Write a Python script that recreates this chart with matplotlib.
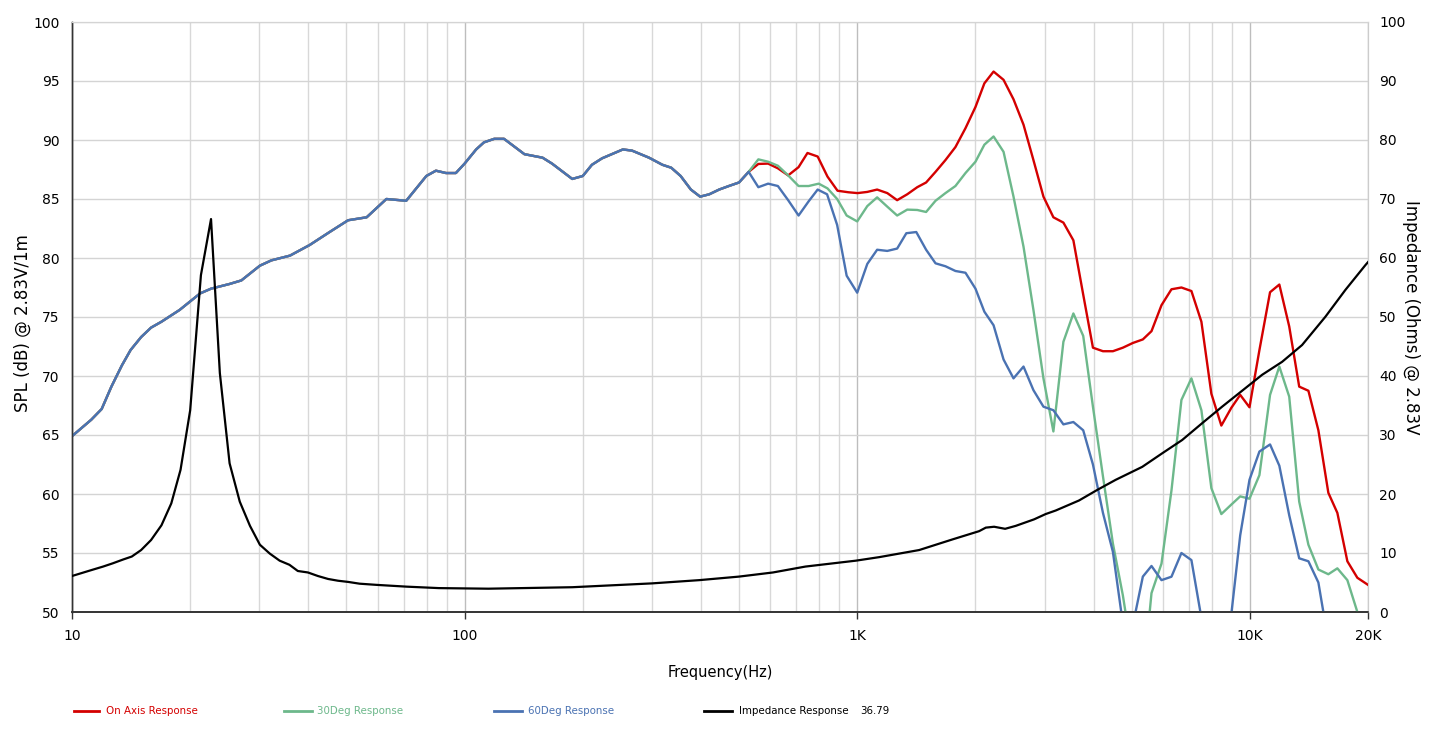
import matplotlib
matplotlib.use("Agg")
import matplotlib.pyplot as plt
from matplotlib.lines import Line2D
from matplotlib.ticker import FixedLocator, NullFormatter

# ---------------- data ----------------
# shared part of the three SPL curves (10 Hz .. 529 Hz)
shared_freq = [10, 11.2, 11.9, 12.6, 13.4, 14.1, 15.0, 15.9, 16.9, 18.8, 21.2, 22.6,
               25.2, 27.0, 30.1, 32.2, 35.9, 40.3, 45.3, 50.5, 56.3, 63.2, 71.0, 79.9,
               84.5, 89.7, 95, 100, 107, 112, 119, 126, 142, 158, 167, 188, 200, 211,
               224, 253, 267, 295, 319, 336, 355, 377, 398, 420, 445, 471, 500, 529]
shared_spl = [64.9, 66.3, 67.2, 69.1, 70.9, 72.2, 73.3, 74.1, 74.6, 75.6, 77.0, 77.4,
              77.8, 78.1, 79.35, 79.8, 80.2, 81.1, 82.2, 83.2, 83.45, 85.0, 84.85, 86.95,
              87.4, 87.2, 87.2, 88.0, 89.2, 89.8, 90.1, 90.1, 88.8, 88.5, 88.0, 86.7, 86.95, 87.9,
              88.45, 89.2, 89.1, 88.5, 87.9, 87.65, 86.95, 85.8, 85.2, 85.4, 85.8, 86.1, 86.4, 87.3]

on_axis_freq = [560, 593, 628, 667, 709, 747, 793, 840, 891, 950, 1002, 1061, 1124, 1193,
                1264, 1341, 1422, 1498, 1583, 1678, 1779, 1887, 2001, 2108, 2225, 2359, 2501,
                2652, 2811, 2981, 3160, 3351, 3553, 3764, 3985, 4226, 4480, 4750, 5037, 5340,
                5618, 5957, 6316, 6696, 7100, 7528, 7981, 8462, 8971, 9452, 9980, 10580, 11260,
                11890, 12600, 13360, 14100, 14950, 15850, 16710, 17720, 18790, 20000]
on_axis_spl = [87.97, 88.0, 87.6, 87.0, 87.7, 88.9, 88.6, 86.9, 85.7, 85.57, 85.5, 85.6, 85.8, 85.5,
               84.9, 85.4, 86.0, 86.4, 87.3, 88.3, 89.4, 91.0, 92.8, 94.8, 95.8, 95.1, 93.45,
               91.3, 88.3, 85.2, 83.45, 83.0, 81.5, 76.9, 72.4, 72.1, 72.1, 72.4, 72.8, 73.1,
               73.8, 76.0, 77.35, 77.5, 77.2, 74.6, 68.5, 65.8, 67.3, 68.4, 67.35, 72.2, 77.1,
               77.75, 74.2, 69.1, 68.75, 65.4, 60.1, 58.4, 54.3, 52.9, 52.3]

deg30_freq = [560, 593, 628, 667, 709, 752, 798, 840, 889, 940, 1000, 1061, 1124, 1193,
              1264, 1341, 1422, 1498, 1583, 1678, 1779, 1887, 2001, 2108, 2225, 2359, 2501,
              2652, 2811, 2981, 3160, 3351, 3553, 3764, 3985, 4226, 4480, 4750, 5037, 5340,
              5618, 5957, 6316, 6696, 7100, 7528, 7981, 8462, 8971, 9452, 9980, 10580, 11260,
              11890, 12600, 13360, 14100, 14950, 15850, 16710, 17720, 18790, 20000]
deg30_spl = [88.36, 88.16, 87.82, 87.0, 86.1, 86.1, 86.3, 85.9, 85.0, 83.6, 83.1, 84.4, 85.14, 84.35,
             83.6, 84.1, 84.07, 83.9, 84.85, 85.5, 86.1, 87.2, 88.16, 89.6, 90.3, 89.0, 85.2,
             80.96, 75.6, 69.8, 65.3, 72.9, 75.3, 73.4, 67.4, 61.5, 55.8, 51.4, 46.0, 44.0,
             51.6, 54.1, 60.3, 67.97, 69.8, 67.1, 60.5, 58.3, 59.1, 59.8, 59.6, 61.6, 68.4,
             70.8, 68.25, 59.35, 55.7, 53.6, 53.2, 53.7, 52.7, 50.0, 46.0]

deg60_freq = [560, 593, 628, 667, 709, 752, 793, 838, 889, 940, 1000, 1061, 1124, 1193,
              1264, 1334, 1414, 1498, 1583, 1678, 1779, 1887, 2001, 2108, 2225, 2359, 2501,
              2652, 2811, 2981, 3160, 3351, 3553, 3764, 3985, 4226, 4480, 4750, 5037, 5340,
              5618, 5957, 6316, 6696, 7100, 7528, 7981, 8462, 8971, 9452, 9980, 10580, 11260,
              11890, 12600, 13360, 14100, 14950, 15850, 16710, 17720, 18790, 20000]
deg60_spl = [86.0, 86.3, 86.1, 84.9, 83.6, 84.8, 85.8, 85.4, 82.8, 78.5, 77.06, 79.5, 80.7, 80.6,
             80.8, 82.1, 82.2, 80.7, 79.55, 79.3, 78.9, 78.75, 77.4, 75.45, 74.3, 71.4, 69.8,
             70.8, 68.8, 67.4, 67.1, 65.9, 66.1, 65.4, 62.5, 58.4, 55.1, 49.0, 48.9, 53.0,
             53.9, 52.7, 52.99, 55.0, 54.4, 49.5, 45.0, 45.0, 49.8, 56.5, 61.2, 63.6, 64.2,
             62.4, 58.2, 54.55, 54.3, 52.5, 47.5, 45.0, 45.0, 45.0, 45.0]

imp_freq = [10, 11.2, 12.0, 12.7, 13.5, 14.2, 15.0, 15.9, 16.9, 17.9, 18.9, 20.0, 21.3, 22.6,
            23.8, 25.2, 26.75, 28.4, 30.1, 31.9, 33.8, 35.8, 37.6, 39.9, 42.3, 44.9, 47.6, 50.5,
            54.0, 59.6, 71, 86, 115, 188, 300, 396, 500, 610, 738, 992, 1138, 1438, 1748, 2044,
            2126, 2232, 2381, 2534, 2821, 3020, 3203, 3672, 4089, 4553, 5321, 5983, 6725, 7561,
            8501, 9559, 10747, 12085, 13587, 15581, 17520, 19700, 20000]
imp_ohm = [6.1, 7.1, 7.7, 8.25, 8.9, 9.4, 10.5, 12.2, 14.7, 18.4, 24.1, 34.2, 57.1, 66.6,
           40.5, 25.2, 18.7, 14.6, 11.4, 9.9, 8.7, 8.0, 6.95, 6.7, 6.1, 5.6, 5.3, 5.1,
           4.8, 4.6, 4.3, 4.05, 3.95, 4.2, 4.85, 5.4, 6.0, 6.7, 7.7, 8.7, 9.3, 10.5, 12.3, 13.7,
           14.3, 14.45, 14.1, 14.6, 15.7, 16.6, 17.2, 18.9, 20.7, 22.4, 24.6, 26.9, 29.15, 32.0,
           34.8, 37.5, 40.2, 42.4, 45.25, 50.05, 54.6, 58.8, 59.3]

x_ticks = [10, 100, 1000, 10000, 20000]
x_tick_labels = ["10", "100", "1K", "10K", "20K"]
minor_grid = [20, 30, 40, 50, 60, 70, 80, 90, 200, 300, 400, 500, 600, 700, 800, 900,
              2000, 3000, 4000, 5000, 6000, 7000, 8000, 9000]
spl_ticks = list(range(50, 101, 5))
imp_ticks = list(range(0, 101, 10))

series_labels = ["On Axis Response", "30Deg Response", "60Deg Response", "Impedance Response"]
impedance_note = "36.79"

RED = "#D40000"
GREEN = "#6DB88B"
BLUE = "#4A72B2"
BLACK = "#000000"

# ---------------- figure ----------------
plt.rcParams['font.family'] = ['DejaVu Sans']
W, H = 1440, 740
fig = plt.figure(figsize=(W / 100, H / 100), dpi=100)
L, R, T, B = 72, 1368, 22, 612
ax = fig.add_axes([L / W, 1 - B / H, (R - L) / W, (B - T) / H])
ax2 = ax.twinx()

ax.set_xscale("log")
ax.set_xlim(10, 20000)
ax.set_ylim(50, 100)
ax2.set_ylim(0, 100)

ax.plot(shared_freq + on_axis_freq, shared_spl + on_axis_spl, color=RED, lw=1.7, zorder=3)
ax.plot(shared_freq + deg30_freq, shared_spl + deg30_spl, color=GREEN, lw=1.7, zorder=4)
ax.plot(shared_freq + deg60_freq, shared_spl + deg60_spl, color=BLUE, lw=1.7, zorder=5)
ax2.plot(imp_freq, imp_ohm, color=BLACK, lw=1.6, zorder=3)

# grid
ax.set_yticks(spl_ticks)
ax.yaxis.grid(True, color="#D4D4D4", lw=1.0)
ax.xaxis.set_major_locator(FixedLocator(x_ticks))
ax.set_xticklabels(x_tick_labels)
ax.xaxis.set_minor_locator(FixedLocator(minor_grid))
ax.xaxis.set_minor_formatter(NullFormatter())
ax.xaxis.grid(True, which="major", color="#BDBDBD", lw=1.0)
ax.xaxis.grid(True, which="minor", color="#D8D8D8", lw=1.0)
ax.set_axisbelow(True)

ax.tick_params(axis="x", which="major", length=5, width=1, color="#333333",
               labelsize=10, pad=7)
ax.tick_params(axis="x", which="minor", length=0)
ax.tick_params(axis="y", which="major", length=0, labelsize=10, pad=9)
ax.yaxis.set_minor_locator(FixedLocator([50, 100]))
ax.tick_params(axis="y", which="minor", length=4, width=1, color="#333333")

ax2.set_yticks(imp_ticks)
ax2.tick_params(axis="y", length=0, labelsize=10, pad=8)

for a in (ax, ax2):
    a.spines["top"].set_color("#D4D4D4")
    a.spines["right"].set_color("#CCCCCC")
    a.spines["left"].set_color("#333333")
    a.spines["bottom"].set_color("#333333")
    a.spines["left"].set_linewidth(1.0)
    a.spines["bottom"].set_linewidth(1.2)
ax.patch.set_visible(False)
ax2.patch.set_visible(False)

ax.set_xlabel("Frequency(Hz)", fontsize=10.5, labelpad=16)
ax.set_ylabel("SPL (dB) @ 2.83V/1m", fontsize=12, labelpad=6)
ax.yaxis.set_label_coords(-0.031, 0.49)
ax2.set_ylabel("Impedance (Ohms) @ 2.83V", fontsize=12, rotation=-90, labelpad=14)
ax2.yaxis.set_label_coords(1.04, 0.5)

# legend (manual, along the bottom)
ly = 1 - 711 / H
items = [(74, 99, 106, RED, series_labels[0]),
         (284, 312, 317, GREEN, series_labels[1]),
         (494, 522, 528, BLUE, series_labels[2]),
         (704, 732, 739, BLACK, series_labels[3])]
for x0, x1, tx, col, lab in items:
    fig.add_artist(Line2D([x0 / W, x1 / W], [ly, ly], transform=fig.transFigure,
                          color=col, lw=2))
    fig.text(tx / W, ly, lab, color=col, fontsize=7.4, va="center", ha="left")
fig.text(860 / W, ly, impedance_note, color=BLACK, fontsize=7.4, va="center", ha="left")

fig.savefig("out.png", dpi=100)
